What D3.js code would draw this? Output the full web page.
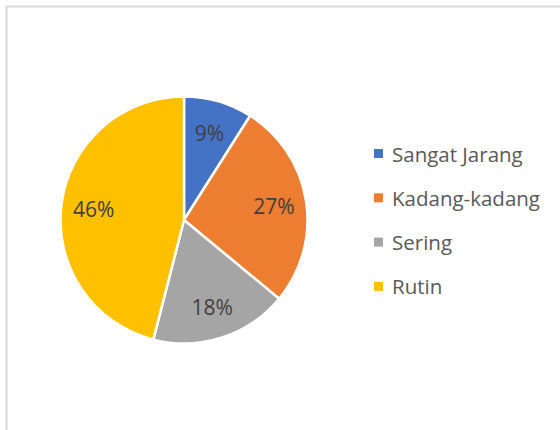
<!DOCTYPE html>
<html><head><meta charset="utf-8">
<script src="https://cdn.jsdelivr.net/npm/d3@7"></script>
<style>html,body{margin:0;padding:0;background:#fff;}svg{display:block;}</style>
</head><body>
<svg id="chart" width="560" height="430"></svg>
<script>
const categories = ["Sangat Jarang", "Kadang-kadang", "Sering", "Rutin"];
const values = [9, 27, 18, 46];
const colors = ["#4472C4", "#ED7D31", "#A5A5A5", "#FFC000"];

const svg = d3.select("#chart");
svg.append("rect").attr("x", 6.5).attr("y", 6.5).attr("width", 600).attr("height", 500)
  .attr("fill", "#fff").attr("stroke", "#d9d9d9").attr("stroke-width", 2);

const cx = 184, cy = 220, r = 123.5;
const data = categories.map((c, i) => ({ name: c, value: values[i] }));
const pie = d3.pie().value(d => d.value).sort(null);
const arc = d3.arc().innerRadius(0).outerRadius(r);
const color = d3.scaleOrdinal().domain(categories).range(colors);
const total = d3.sum(values);

const g = svg.append("g").attr("transform", `translate(${cx},${cy})`);
const arcs = pie(data);
g.selectAll("path").data(arcs).join("path")
  .attr("d", arc).attr("fill", d => color(d.data.name))
  .attr("stroke", "#fff").attr("stroke-width", 2.5).attr("stroke-linejoin", "round");

g.selectAll("text").data(arcs).join("text")
  .attr("transform", d => {
    const a = (d.startAngle + d.endAngle) / 2;
    const rr = 91;
    return `translate(${rr * Math.sin(a)},${-rr * Math.cos(a)})`;
  })
  .attr("text-anchor", "middle").attr("dominant-baseline", "central")
  .attr("font-family", "'Open Sans', 'Liberation Sans', sans-serif")
  .attr("font-size", 21).attr("fill", "#404040")
  .text(d => Math.round(d.data.value / total * 100) + "%");

const legend = svg.append("g");
const rows = legend.selectAll("g").data(categories).join("g")
  .attr("transform", (d, i) => `translate(374,${153.5 + i * 44.3})`);
rows.append("rect").attr("x", 0).attr("y", -4.5).attr("width", 9).attr("height", 9)
  .attr("fill", d => color(d));
rows.append("text").attr("x", 18).attr("y", 0).attr("dominant-baseline", "central")
  .attr("font-family", "'Open Sans', 'Liberation Sans', sans-serif")
  .attr("font-size", 20.5).attr("fill", "#595959").text(d => d);
</script>
</body></html>
